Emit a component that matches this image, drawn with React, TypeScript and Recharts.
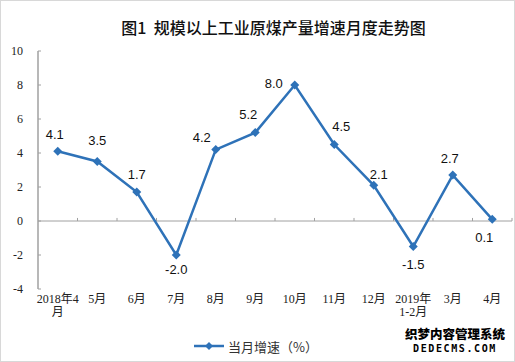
import React from "react";
import { LineChart, Line, XAxis, YAxis, ReferenceLine, Legend } from "recharts";

const tickLines: string[][] = [
  ["2018年4", "月"],
  ["5月"],
  ["6月"],
  ["7月"],
  ["8月"],
  ["9月"],
  ["10月"],
  ["11月"],
  ["12月"],
  ["2019年", "1-2月"],
  ["3月"],
  ["4月"],
];
const growth = [4.1, 3.5, 1.7, -2.0, 4.2, 5.2, 8.0, 4.5, 2.1, -1.5, 2.7, 0.1];
const yTicks = [-4, -2, 0, 2, 4, 6, 8, 10];
const seriesName = "当月增速（%）";

// label offsets (px) relative to each point
const labelOffsets: [number, number][] = [
  [-3, -17], [0, -21], [0, -18], [0, 14], [-14, -12], [-7, -18],
  [-21, -2], [7, -18], [5, -11], [0, 18], [-3, -17], [-8, 18],
];

const data = growth.map((v, i) => ({ idx: i, value: v }));
const gapTicks = tickLines.map((_, i) => i + 0.5);

const BLUE = "#2e72b8";
const GRAY = "#a0a0a0";
const SERIF = "'Liberation Serif', 'Noto Sans CJK SC', serif";

const Diamond = (props: any) => {
  const { cx, cy } = props;
  if (cx == null || cy == null) return null;
  const s = 4.5;
  return <path d={`M${cx},${cy - s}L${cx + s},${cy}L${cx},${cy + s}L${cx - s},${cy}Z`} fill={BLUE} />;
};

const ValueLabel = (props: any) => {
  const { x, y, value, index } = props;
  const [dx, dy] = labelOffsets[index] || [0, -15];
  return (
    <text
      x={x + dx}
      y={y + dy}
      textAnchor="middle"
      dominantBaseline="central"
      fontSize={13}
      fontFamily="'Liberation Sans', Arial, sans-serif"
      fill="#111"
    >
      {Number(value).toFixed(1)}
    </text>
  );
};

const XTick = (props: any) => {
  const { x, y, payload } = props;
  const lines = tickLines[payload.value] || [];
  return (
    <g>
      {lines.map((t, k) => (
        <text key={k} x={x} y={y + 14 + k * 13} textAnchor="middle" fontSize={12} fontFamily={SERIF} fill="#222">
          {t}
        </text>
      ))}
    </g>
  );
};

const YTick = (props: any) => {
  const { x, y, payload } = props;
  return (
    <g>
      <line x1={x} x2={x + 3} y1={y} y2={y} stroke={GRAY} />
      <text x={x - 15} y={y} textAnchor="end" dominantBaseline="central" fontSize={12} fontFamily={SERIF} fill="#222">
        {payload.value}
      </text>
    </g>
  );
};

const LegendContent = () => (
  <div style={{ display: "flex", justifyContent: "center", alignItems: "center", height: 30, marginLeft: 0 }}>
    <svg width={30} height={12} style={{ marginRight: 4 }}>
      <line x1={0} x2={30} y1={6} y2={6} stroke={BLUE} strokeWidth={2.5} />
      <path d="M15,2L19,6L15,10L11,6Z" fill={BLUE} />
    </svg>
    <span style={{ fontSize: 13, fontFamily: "'Noto Sans CJK SC', sans-serif", color: "#333" }}>{seriesName}</span>
  </div>
);

const wmShadow = "1px 1px 0 #fff, -1px -1px 0 #fff, 1px -1px 0 #fff, -1px 1px 0 #fff";

export default function App() {
  return (
    <div
      style={{
        position: "relative",
        width: 515,
        height: 362,
        boxSizing: "border-box",
        border: "1px solid #d8d8d8",
        background: "#fff",
      }}
    >
      <style>{"body{margin:0}"}</style>
      <div
        style={{
          position: "absolute",
          top: 14,
          left: 0,
          width: 545,
          textAlign: "center",
          fontSize: 16,
          fontFamily: "'Noto Sans CJK SC', sans-serif",
          fontWeight: 500,
          color: "#111",
          whiteSpace: "pre",
        }}
      >
        {"图1  规模以上工业原煤产量增速月度走势图"}
      </div>
      <div style={{ position: "absolute", left: -1, top: -1 }}>
        <LineChart width={515} height={362} data={data} margin={{ top: 51, right: 3, left: 0, bottom: 1 }}>
          <XAxis
            dataKey="idx"
            type="number"
            domain={[-0.5, 11.5]}
            ticks={tickLines.map((_, i) => i)}
            interval={0}
            axisLine={false}
            tickLine={false}
            tickSize={0}
            tickMargin={0}
            height={42}
            tick={<XTick />}
          />
          <YAxis
            domain={[-4, 10]}
            ticks={yTicks}
            width={38}
            axisLine={{ stroke: GRAY, strokeWidth: 1.5 }}
            tickLine={false}
            tickSize={0}
            tickMargin={0}
            tick={<YTick />}
            interval={0}
          />
          <ReferenceLine y={0} stroke={GRAY} strokeWidth={1} />
          {gapTicks.map((g) => (
            <ReferenceLine
              key={g}
              segment={[
                { x: g, y: 0 },
                { x: g, y: 0.18 },
              ]}
              stroke={GRAY}
            />
          ))}
          <Legend verticalAlign="bottom" height={30} content={<LegendContent />} />
          <Line
            type="linear"
            dataKey="value"
            name={seriesName}
            stroke={BLUE}
            strokeWidth={2.5}
            dot={<Diamond />}
            activeDot={false}
            label={<ValueLabel />}
            isAnimationActive={false}
          />
        </LineChart>
      </div>
      <div
        style={{
          position: "absolute",
          left: 404,
          top: 325,
          width: 100,
          height: 16,
          lineHeight: "16px",
          textAlign: "center",
          fontSize: 12.5,
          fontFamily: "'Noto Sans CJK SC', sans-serif",
          fontWeight: 900,
          color: "#000",
          textShadow: wmShadow,
          whiteSpace: "nowrap",
        }}
      >
        织梦内容管理系统
      </div>
      <div
        style={{
          position: "absolute",
          left: 404,
          top: 342,
          width: 100,
          height: 12,
          lineHeight: "12px",
          textAlign: "center",
          fontSize: 10,
          letterSpacing: 1.6,
          fontFamily: "'DejaVu Sans Mono', monospace",
          fontWeight: 900,
          color: "#000",
          textShadow: wmShadow,
          whiteSpace: "nowrap",
        }}
      >
        DEDECMS.COM
      </div>
    </div>
  );
}
